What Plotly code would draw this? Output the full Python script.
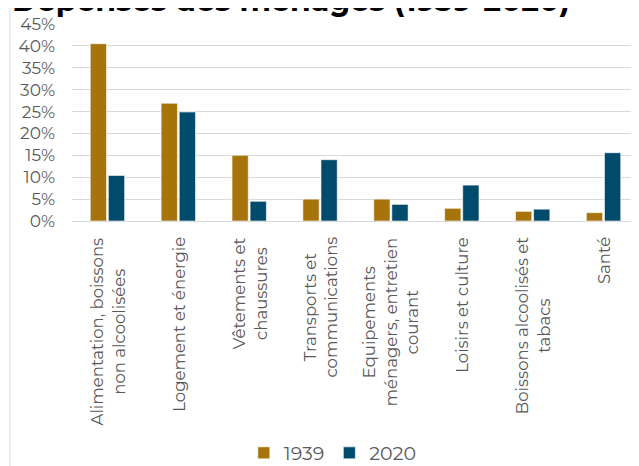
import plotly.graph_objects as go

categories = [
    "Alimentation, boissons<br>non alcoolisées",
    "Logement et énergie",
    "Vêtements et<br>chaussures",
    "Transports et<br>communications",
    "Equipements<br>ménagers, entretien<br>courant",
    "Loisirs et culture",
    "Boissons alcoolisés et<br>tabacs",
    "Santé",
]
values_1939 = [40.5, 26.9, 15.0, 5.0, 5.0, 2.9, 2.2, 1.9]
values_2020 = [10.4, 24.9, 4.5, 14.0, 3.8, 8.2, 2.7, 15.6]
series_names = ["1939", "2020"]
tick_vals = [0, 5, 10, 15, 20, 25, 30, 35, 40, 45]
tick_text = [f"{v}%" for v in tick_vals]
title_text = "Dépenses des ménages (1939-2020)"

FONT = "Montserrat, DejaVu Sans, sans-serif"
GRAY = "#595959"
OFF = 8  # page body margin offset
W, H = 639 - OFF, 466 - OFF
L, T, R = 72 - OFF, 24 - OFF, 0
BOTTOM_Y = 221 - OFF
B = H - BOTTOM_Y
PH = BOTTOM_Y - T
PW = W - L - R

fig = go.Figure()
fig.add_trace(go.Bar(x=categories, y=values_1939, name=series_names[0],
                     marker=dict(color="#A6740A", line=dict(color="white", width=0.6))))
fig.add_trace(go.Bar(x=categories, y=values_2020, name=series_names[1],
                     marker=dict(color="#004A6B", line=dict(color="white", width=0.6))))

fig.update_layout(
    width=W, height=H,
    margin=dict(l=L, r=R, t=T, b=B, autoexpand=False),
    paper_bgcolor="white", plot_bgcolor="white",
    barmode="group", bargap=0.49, bargroupgap=0.1,
    font=dict(family=FONT, size=16, color=GRAY),
    legend=dict(orientation="h", x=0.46, xanchor="center",
                y=-((453 - OFF) - BOTTOM_Y) / PH, yanchor="middle",
                font=dict(size=19, color=GRAY), itemwidth=30, traceorder="normal"),
    showlegend=True,
)
fig.update_xaxes(showticklabels=False, showgrid=False, showline=False, ticks="",
                 automargin=False)
fig.update_yaxes(range=[0, 45], tickvals=tick_vals, ticktext=tick_text,
                 showgrid=True, gridcolor="#D9D9D9", gridwidth=1,
                 zeroline=True, zerolinecolor="#D9D9D9", zerolinewidth=1,
                 showline=False, ticks="", ticklabelstandoff=16, automargin=False,
                 tickfont=dict(size=17, color=GRAY))

# category labels, rotated and centred line by line
for c in categories:
    fig.add_annotation(x=c, xref="x", y=0, yref="paper", yshift=-14,
                       text=c, textangle=-90, showarrow=False,
                       xanchor="center", yanchor="top", align="center",
                       font=dict(size=16.5, color=GRAY, family=FONT))

# title (cropped at top in the reference)
fig.add_annotation(x=(10 - OFF - L) / PW, xref="paper", xanchor="left",
                   y=(BOTTOM_Y + 8) / PH, yref="paper", yanchor="middle",
                   text=f"<b>{title_text}</b>", showarrow=False,
                   font=dict(size=30, color="black", family=FONT))

# outer chart border: only its left and top edges are visible in the reference
bx = (10 - OFF - L) / PW
by = (BOTTOM_Y - (7 - OFF)) / PH
fig.add_shape(type="line", xref="paper", yref="paper", x0=bx, x1=bx, y0=-1.3, y1=by,
              line=dict(color="#D9D9D9", width=1), layer="below")
fig.add_shape(type="line", xref="paper", yref="paper", x0=bx, x1=1.0, y0=by, y1=by,
              line=dict(color="#D9D9D9", width=1), layer="below")

fig.write_html("out.html")
